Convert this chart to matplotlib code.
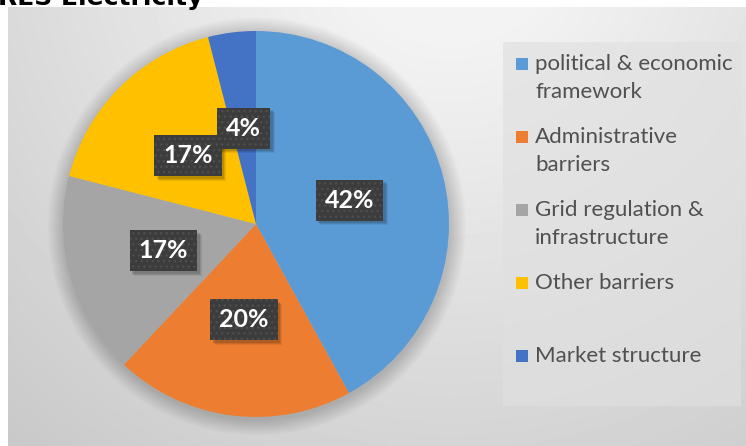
import numpy as np
import matplotlib.pyplot as plt
from matplotlib.patches import Circle, Rectangle

# Data
categories = ["political & economic\nframework", "Administrative\nbarriers",
              "Grid regulation &\ninfrastructure", "Other barriers\n", "Market structure"]
shares = [42, 20, 17, 17, 4]
colors = ["#5B9BD5", "#ED7D31", "#A5A5A5", "#FFC000", "#4472C4"]
title = "RES Electricity"

W, H = 746, 446
fig = plt.figure(figsize=(W / 100, H / 100), dpi=100)
fig.patch.set_facecolor("white")

# background of the chart area (soft gradient)
bg = fig.add_axes([8 / W, 0, (W - 8) / W, (H - 7) / H], zorder=0)
yy, xx = np.mgrid[0:H - 7, 8:W]
dist = np.hypot(xx - 450, yy + 80)
shade = 0.955 - 0.175 * np.clip((dist - 100) / 600, 0, 1)
bg.imshow(shade, cmap="gray", vmin=0, vmax=1, aspect="auto", extent=[0, 1, 0, 1])
bg.axis("off")

# title, mostly cut off at the top edge
fig.text(-2 / W, 1 - 5 / H, title, fontsize=18, fontweight="bold", family="DejaVu Sans",
         va="baseline", ha="left", color="black")

# pie axes
cx, cy, r = 256, H - 224, 193
lim = 1.12
side = 2 * r * lim
ax = fig.add_axes([(cx - side / 2) / W, (cy - side / 2) / H, side / W, side / H], zorder=1)

# soft shadow around the pie
for k in range(14):
    ax.add_patch(Circle((0.004, -0.012), 1.0 + 0.006 * (k + 1), color="black",
                        alpha=0.011, lw=0, zorder=0))

wedges, texts, autotexts = ax.pie(
    shares, colors=colors, startangle=90, counterclock=False,
    autopct="%1.0f%%", pctdistance=0.5, radius=1.0,
    wedgeprops=dict(linewidth=0),
)
ax.set_xlim(-lim, lim)
ax.set_ylim(-lim, lim)
ax.set_aspect("equal")
ax.axis("off")
for w in wedges:
    w.set_zorder(2)

for t in autotexts:
    t.set_color("white")
    t.set_fontsize(18)
    t.set_fontweight("bold")
    t.set_family("Lato")
    t.set_zorder(5)
    t.set_bbox(dict(boxstyle="square,pad=0.36", facecolor="#3c3c3c", edgecolor="#4e4e4e",
                    linewidth=0, hatch="..."))

# blurred drop shadow behind each label box
fig.canvas.draw()
for t in autotexts:
    bb = t.get_bbox_patch().get_window_extent()
    for d, a in [(4.5, 0.07), (3.5, 0.09), (2.5, 0.12)]:
        ax.add_patch(Rectangle(((bb.x0 + d) / W, (bb.y0 - d) / H), bb.width / W, bb.height / H,
                               transform=fig.transFigure, facecolor="black", alpha=a,
                               linewidth=0, zorder=4))

# legend box
fig.patches.append(Rectangle((503 / W, 1 - 406 / H), (741 - 503) / W, (406 - 42) / H,
                             transform=fig.transFigure, facecolor="#e0e0e0", alpha=0.65,
                             edgecolor="none", zorder=1))
y0 = 64
for i, (lab, col) in enumerate(zip(categories, colors)):
    y = y0 + i * 73
    fig.patches.append(Rectangle((516 / W, 1 - (y + 6) / H), 12 / W, 12 / H,
                                 transform=fig.transFigure, facecolor=col,
                                 edgecolor="none", zorder=2))
    for j, line in enumerate(lab.split("\n")):
        fig.text(535 / W, 1 - (y + j * 28) / H, line, fontsize=16, family="Lato",
                 color="#505050", va="center", ha="left", zorder=3)

fig.savefig("out.png", dpi=100)
